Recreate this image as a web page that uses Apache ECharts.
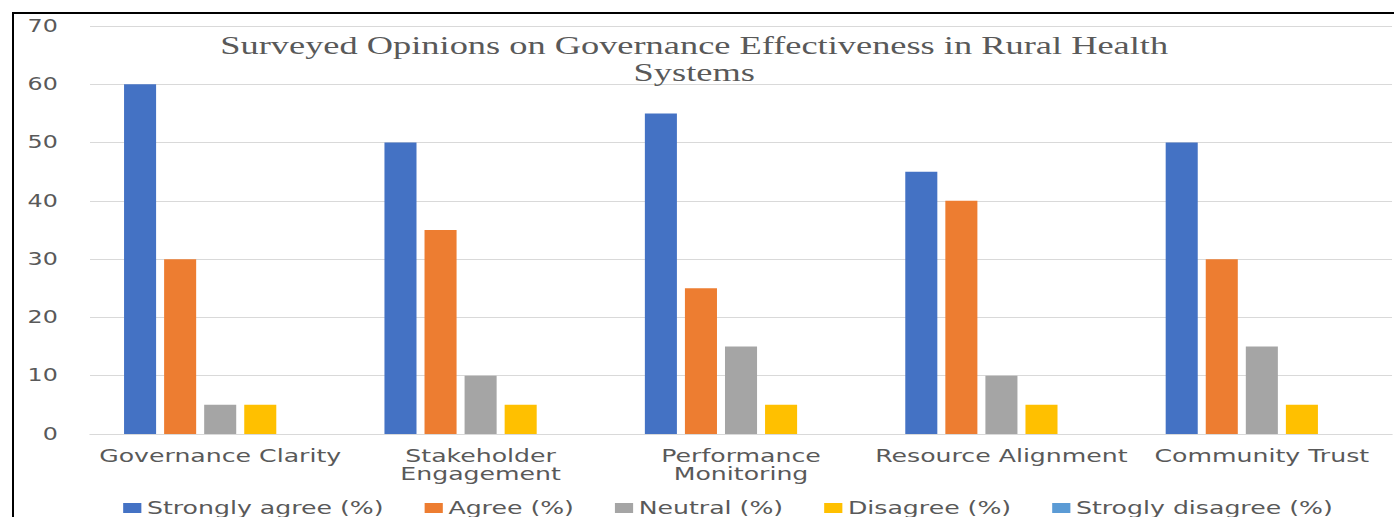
<!DOCTYPE html>
<html>
<head>
<meta charset="utf-8">
<script src="https://cdn.jsdelivr.net/npm/echarts@6/dist/echarts.min.js"></script>
<style>
	html, body { margin: 0; padding: 0; background: #fff; overflow: hidden; }
	#frame { position: absolute; left: 12px; top: 12px; width: 1382px; height: 505px;
		border-top: 2px solid #000; border-left: 2px solid #000; box-sizing: border-box; }
	/* the source picture is stretched sideways, so the chart is drawn narrow and widened */
	#chart { position: absolute; left: 0; top: 0; width: 996px; height: 517px;
		transform: scaleX(1.3996); transform-origin: 0 0; }
</style>
</head>
<body>
<div id="frame"></div>
<div id="chart"></div>
<script>
	const categories = ['Governance Clarity', 'Stakeholder\nEngagement', 'Performance\nMonitoring', 'Resource Alignment', 'Community Trust']
	const stronglyAgree = [60, 50, 55, 45, 50]
	const agree = [30, 35, 25, 40, 30]
	const neutral = [5, 10, 15, 10, 15]
	const disagree = [5, 5, 5, 5, 5]
	const stronglyDisagree = [0, 0, 0, 0, 0]

	const seriesNames = ['Strongly agree (%)', 'Agree (%)', 'Neutral (%)', 'Disagree (%)', 'Strogly disagree (%)']
	const seriesData = [stronglyAgree, agree, neutral, disagree, stronglyDisagree]
	const colors = ['#4472C4', '#ED7D31', '#A5A5A5', '#FFC000', '#5B9BD5']

	const sans = 'DejaVu Sans'
	const textColor = '#595959'

	const chart = echarts.init(document.getElementById('chart'), null, { renderer: 'svg' })
	chart.setOption({
		animation: false,
		color: colors,
		title: {
			text: 'Surveyed Opinions on Governance Effectiveness in Rural Health\nSystems',
			left: 491,
			top: 27,
			textAlign: 'center',
			textStyle: {
				fontFamily: 'Liberation Serif',
				fontWeight: 'normal',
				fontSize: 26,
				lineHeight: 27,
				color: textColor
			}
		},
		legend: {
			data: seriesNames,
			left: 83,
			top: 494,
			itemWidth: 13,
			itemHeight: 10,
			itemGap: 29.2,
			icon: 'rect',
			textStyle: {
				fontFamily: sans,
				fontSize: 18,
				color: textColor,
				padding: [0, 0, 0, -1]
			}
		},
		grid: {
			left: 64.3,
			right: 1.4,
			top: 26,
			bottom: 83,
			containLabel: false
		},
		xAxis: {
			type: 'category',
			data: categories,
			axisLine: { lineStyle: { color: '#D9D9D9', width: 1 } },
			axisTick: { show: false },
			axisLabel: {
				fontFamily: sans,
				fontSize: 18,
				lineHeight: 18,
				color: textColor,
				margin: 13,
				interval: 0
			}
		},
		yAxis: {
			type: 'value',
			min: 0,
			max: 70,
			interval: 10,
			axisLine: { show: false },
			axisTick: { show: false },
			splitLine: { lineStyle: { color: '#D9D9D9', width: 1 } },
			axisLabel: {
				fontFamily: sans,
				fontSize: 17,
				color: textColor,
				margin: 23
			}
		},
		series: seriesNames.map((name, i) => ({
			name: name,
			type: 'bar',
			data: seriesData[i],
			barWidth: 22.9,
			barGap: '25%',
			itemStyle: { color: colors[i] }
		}))
	})
</script>
</body>
</html>
